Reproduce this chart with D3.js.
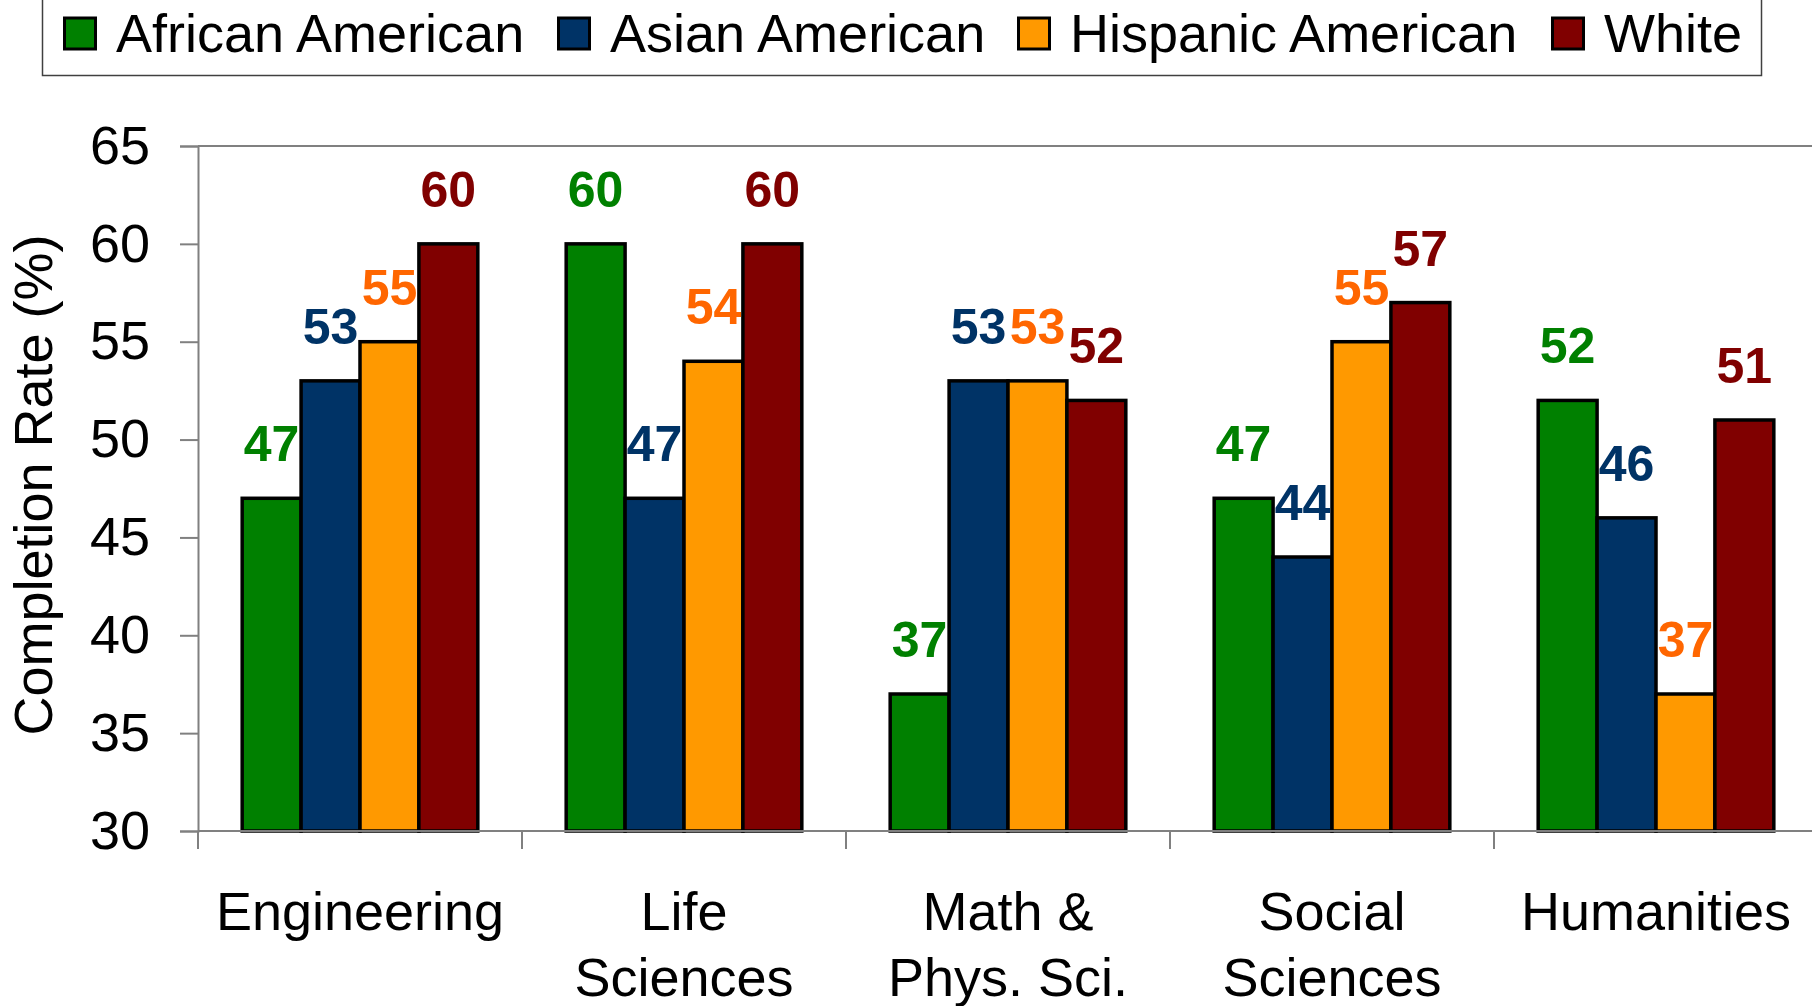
<!DOCTYPE html>
<html>
<head>
<meta charset="utf-8">
<script src="https://cdn.jsdelivr.net/npm/d3@7"></script>
<style>
  html, body { margin: 0; padding: 0; background: #fff; overflow: hidden; }
  svg { display: block; font-family: "Liberation Sans", Arial, Helvetica, sans-serif; }
</style>
</head>
<body>
<svg id="chart" width="1812" height="1006"></svg>
<script>
// Fields of study (each line of a label is a separate array entry)
const categories = ["Engineering", "Life Sciences", "Math & Phys. Sci.", "Social Sciences", "Humanities"];
const categoryLines = [["Engineering"], ["Life", "Sciences"], ["Math &", "Phys. Sci."], ["Social", "Sciences"], ["Humanities"]];

// Groups and their completion rates (%) per field
const series = ["African American", "Asian American", "Hispanic American", "White"];
const africanAmerican  = [47, 60, 37, 47, 52];
const asianAmerican    = [53, 47, 53, 44, 46];
const hispanicAmerican = [55, 54, 53, 55, 37];
const white            = [60, 60, 52, 57, 51];
const seriesValues = [africanAmerican, asianAmerican, hispanicAmerican, white];

const barColors   = ["#008000", "#003366", "#FF9900", "#800000"];
const labelColors = ["#008000", "#003366", "#FF6600", "#800000"];

const yTicks = [30, 35, 40, 45, 50, 55, 60, 65];

const svg = d3.select("#chart");

const plot = { left: 198, top: 146, bottom: 831, band: 324 };

const x0 = d3.scaleBand()
  .domain(categories)
  .range([plot.left, plot.left + plot.band * categories.length])
  .paddingInner(0).paddingOuter(0);

const x1 = d3.scaleBand()
  .domain(series)
  .range([0, x0.bandwidth()])
  .paddingInner(0).paddingOuter(0.75);

const y = d3.scaleLinear().domain([30, 65]).range([plot.bottom, plot.top]);

// Plot frame top edge
svg.append("line")
  .attr("x1", plot.left).attr("x2", x0.range()[1])
  .attr("y1", y(65)).attr("y2", y(65))
  .attr("stroke", "#808080").attr("stroke-width", 2);

// Bars
const rows = categories.map((c, i) => ({ cat: c, vals: series.map((s, j) => ({ s, j, v: seriesValues[j][i] })) }));

const groups = svg.selectAll("g.cat").data(rows).join("g")
  .attr("class", "cat")
  .attr("transform", d => `translate(${x0(d.cat)},0)`);

groups.selectAll("rect").data(d => d.vals).join("rect")
  .attr("x", d => x1(d.s))
  .attr("width", x1.bandwidth())
  .attr("y", d => y(d.v))
  .attr("height", d => y(30) - y(d.v))
  .attr("fill", d => barColors[d.j])
  .attr("stroke", "#000").attr("stroke-width", 3.5);

groups.selectAll("text.val").data(d => d.vals).join("text")
  .attr("class", "val")
  .attr("x", d => x1(d.s) + x1.bandwidth() / 2)
  .attr("y", d => y(d.v) - 37)
  .attr("text-anchor", "middle")
  .attr("font-size", 50).attr("font-weight", "bold")
  .attr("fill", d => labelColors[d.j])
  .text(d => d.v);

// Y axis
const yAxis = svg.append("g")
  .attr("transform", `translate(${plot.left},0)`)
  .call(d3.axisLeft(y).tickValues(yTicks).tickSize(18).tickPadding(30).tickFormat(d3.format("d")));
yAxis.select(".domain").attr("stroke", "#808080").attr("stroke-width", 2);
yAxis.selectAll(".tick line").attr("stroke", "#808080").attr("stroke-width", 2);
yAxis.selectAll(".tick text").attr("font-size", 54).attr("fill", "#000")
  .attr("font-family", "'Liberation Sans', Arial, sans-serif");

// X axis line with boundary ticks between fields
const xAxis = svg.append("g");
xAxis.append("line")
  .attr("x1", plot.left).attr("x2", x0.range()[1])
  .attr("y1", y(30)).attr("y2", y(30))
  .attr("stroke", "#808080").attr("stroke-width", 2);
xAxis.selectAll("line.tick").data(categories).join("line")
  .attr("class", "tick")
  .attr("x1", d => x0(d)).attr("x2", d => x0(d))
  .attr("y1", y(30)).attr("y2", y(30) + 18)
  .attr("stroke", "#808080").attr("stroke-width", 2);

const catLabels = xAxis.selectAll("text.cat").data(categories).join("text")
  .attr("class", "cat")
  .attr("text-anchor", "middle")
  .attr("font-size", 54).attr("fill", "#000");
catLabels.each(function (d, i) {
  const t = d3.select(this);
  categoryLines[i].forEach((line, k) => {
    t.append("tspan")
      .attr("x", x0(d) + x0.bandwidth() / 2)
      .attr("y", 930 + k * 66)
      .text(line);
  });
});

// Y axis title
svg.append("text")
  .attr("transform", "translate(52,485) rotate(-90)")
  .attr("text-anchor", "middle")
  .attr("font-size", 54).attr("fill", "#000")
  .text("Completion Rate (%)");

// Legend
const legend = svg.append("g");
legend.append("rect")
  .attr("x", 42.5).attr("y", -10).attr("width", 1719).attr("height", 85.5)
  .attr("fill", "#fff").attr("stroke", "#404040").attr("stroke-width", 1.5);
const legendX = [63, 557, 1017, 1551];
const items = legend.selectAll("g.item").data(series).join("g")
  .attr("class", "item")
  .attr("transform", (d, i) => `translate(${legendX[i]},0)`);
items.append("rect")
  .attr("x", 1.5).attr("y", 18).attr("width", 31).attr("height", 31)
  .attr("fill", (d, i) => barColors[i])
  .attr("stroke", "#000").attr("stroke-width", 3);
items.append("text")
  .attr("x", 53).attr("y", 51.5)
  .attr("font-size", 54).attr("fill", "#000")
  .text(d => d);
</script>
</body>
</html>
